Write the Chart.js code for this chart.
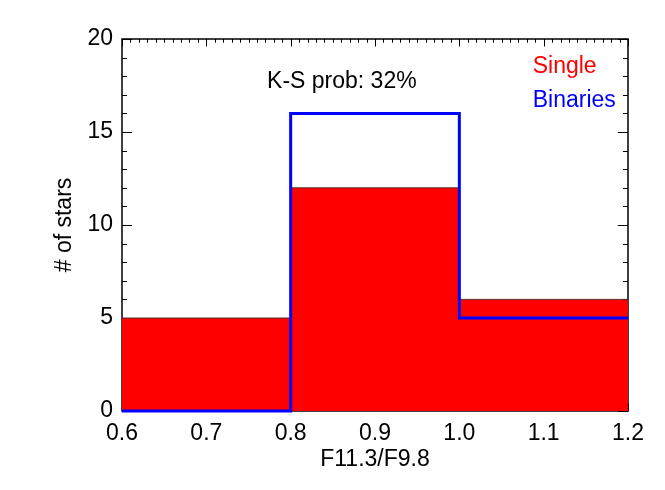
<!DOCTYPE html>
<html>
<head>
<meta charset="utf-8">
<script src="https://cdn.jsdelivr.net/npm/chart.js@4"></script>
<style>
  html, body { margin: 0; padding: 0; background: #fff; }
</style>
</head>
<body>
<canvas id="hist" width="665" height="490"></canvas>
<script>
// Histogram bins (edges) and counts per bin
const binEdges = [0.6, 0.8, 1.0, 1.2];
const singleCounts = [5, 12, 6];
const binaryCounts = [0, 16, 5];

const xTickValues = [0.6, 0.7, 0.8, 0.9, 1.0, 1.1, 1.2];
const yTickValues = [0, 5, 10, 15, 20];

const ksText = 'K-S prob: 32%';
const seriesNames = ['Single', 'Binaries'];

const FONT = "'Liberation Sans', Arial, Helvetica, sans-serif";
const FONT_SIZE = 23;

// step points: one per left edge, last edge repeats the last count
function stepPoints(edges, counts) {
    return edges.map((e, i) => ({ x: e, y: counts[Math.min(i, counts.length - 1)] }));
}

// IDL style frame with inward ticks on all four sides
const frameTicks = {
    id: 'frameTicks',
    beforeDatasetsDraw(chart) {
        const { ctx, chartArea: a, scales: { x, y } } = chart;
        const xMajor = 0.02 * (a.bottom - a.top);
        const yMajor = 0.02 * (a.right - a.left);
        ctx.save();
        ctx.strokeStyle = '#000';
        ctx.lineWidth = 1;
        ctx.beginPath();
        // x: minor every 0.01, major every 0.1
        for (let i = 0; i <= 60; i++) {
            const px = Math.round(x.getPixelForValue(0.6 + i * 0.01)) + 0.5;
            const len = i % 10 === 0 ? xMajor : xMajor / 2;
            ctx.moveTo(px, a.top); ctx.lineTo(px, a.top + len);
            ctx.moveTo(px, a.bottom); ctx.lineTo(px, a.bottom - len);
        }
        // y: minor every 1, major every 5
        for (let j = 0; j <= 20; j++) {
            const py = Math.round(y.getPixelForValue(j)) + 0.5;
            const len = j % 5 === 0 ? yMajor : yMajor / 2;
            ctx.moveTo(a.left, py); ctx.lineTo(a.left + len, py);
            ctx.moveTo(a.right, py); ctx.lineTo(a.right - len, py);
        }
        ctx.stroke();
        ctx.lineWidth = 1.5;
        ctx.strokeRect(a.left, a.top, a.right - a.left, a.bottom - a.top);
        ctx.restore();
    },
    afterDatasetsDraw(chart) {
        const { ctx, scales: { x, y } } = chart;
        ctx.save();
        ctx.font = FONT_SIZE + 'px ' + FONT;
        ctx.textAlign = 'left';
        ctx.textBaseline = 'alphabetic';
        ctx.fillStyle = '#000';
        ctx.fillText(ksText, x.getPixelForValue(0.772), y.getPixelForValue(17.37));
        ctx.fillStyle = '#ff0000';
        ctx.fillText(seriesNames[0], x.getPixelForValue(1.087), y.getPixelForValue(18.17));
        ctx.fillStyle = '#0000ff';
        ctx.fillText(seriesNames[1], x.getPixelForValue(1.087), y.getPixelForValue(16.34));
        ctx.restore();
    }
};

const ctx = document.getElementById('hist');

new Chart(ctx, {
    type: 'line',
    data: {
        datasets: [
            {
                label: seriesNames[1],
                data: stepPoints(binEdges, binaryCounts),
                stepped: 'before',
                borderColor: '#0000ff',
                borderWidth: 3,
                pointRadius: 0,
                fill: false,
                clip: false,
                order: 0
            },
            {
                label: seriesNames[0],
                data: stepPoints(binEdges, singleCounts),
                stepped: 'before',
                borderColor: 'rgba(70, 40, 40, 0.9)',
                borderWidth: 1,
                backgroundColor: '#ff0000',
                pointRadius: 0,
                fill: 'origin',
                order: 1
            }
        ]
    },
    options: {
        responsive: false,
        devicePixelRatio: 1,
        animation: false,
        layout: { padding: { top: 39, right: 37, left: 0, bottom: 0 } },
        plugins: {
            legend: { display: false },
            tooltip: { enabled: false }
        },
        scales: {
            x: {
                type: 'linear',
                min: 0.6,
                max: 1.2,
                grid: { display: false, drawTicks: false },
                border: { display: false },
                afterBuildTicks: (scale) => {
                    scale.ticks = xTickValues.map(v => ({ value: v }));
                },
                afterFit: (scale) => { scale.height = 79; },
                ticks: {
                    autoSkip: false,
                    maxRotation: 0,
                    padding: 9,
                    color: '#000',
                    font: { family: FONT, size: FONT_SIZE },
                    callback: (v) => Number(v).toFixed(1)
                },
                title: {
                    display: true,
                    text: 'F11.3/F9.8',
                    color: '#000',
                    font: { family: FONT, size: FONT_SIZE },
                    padding: { top: 0, bottom: 17 }
                }
            },
            y: {
                type: 'linear',
                min: 0,
                max: 20,
                grid: { display: false, drawTicks: false },
                border: { display: false },
                afterBuildTicks: (scale) => {
                    scale.ticks = yTickValues.map(v => ({ value: v }));
                },
                afterFit: (scale) => { scale.width = 122; },
                ticks: {
                    padding: 9,
                    color: '#000',
                    font: { family: FONT, size: FONT_SIZE }
                },
                title: {
                    display: true,
                    text: '# of stars',
                    color: '#000',
                    font: { family: FONT, size: FONT_SIZE },
                    padding: { top: 51, bottom: 0 }
                }
            }
        }
    },
    plugins: [frameTicks]
});
</script>
</body>
</html>
